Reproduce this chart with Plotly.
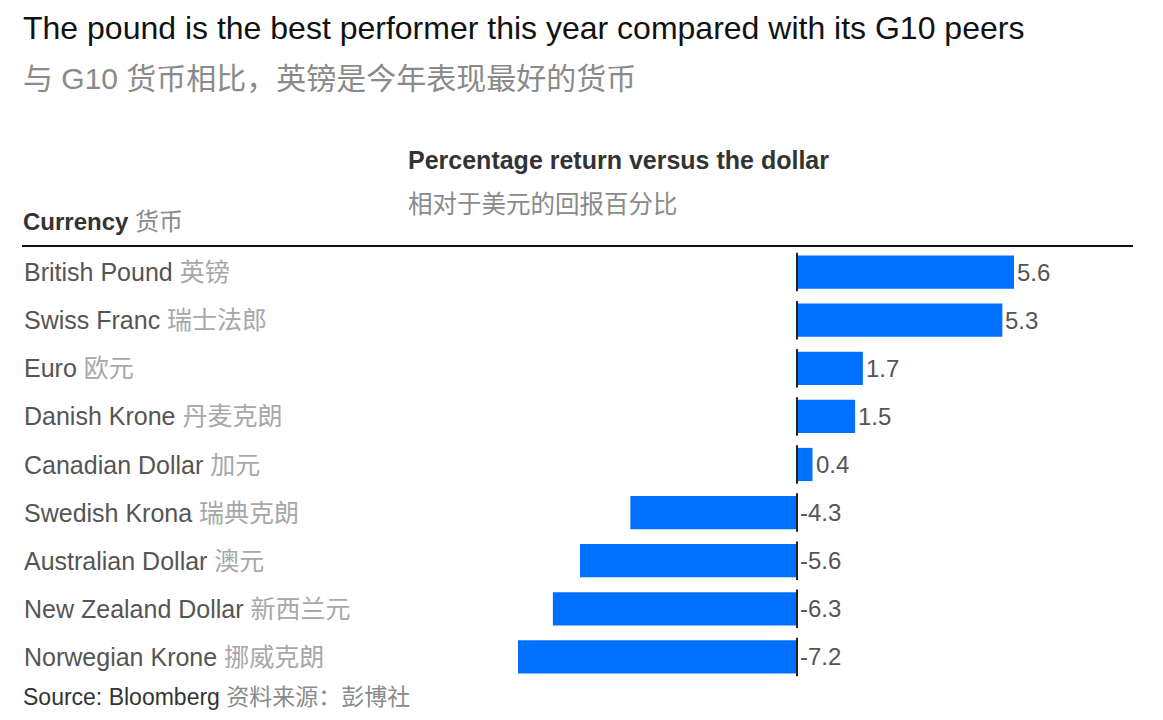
import plotly.graph_objects as go

# data
currencies_en = ["British Pound", "Swiss Franc", "Euro", "Danish Krone", "Canadian Dollar",
                 "Swedish Krona", "Australian Dollar", "New Zealand Dollar", "Norwegian Krone"]
currencies_zh = ["英镑", "瑞士法郎", "欧元", "丹麦克朗", "加元",
                 "瑞典克朗", "澳元", "新西兰元", "挪威克朗"]
returns = [5.6, 5.3, 1.7, 1.5, 0.4, -4.3, -5.6, -6.3, -7.2]

W, H = 1163, 720
OFF = 8  # page body margin
FONT = "Liberation Sans, Noto Sans CJK SC, sans-serif"
BLUE = "#0070ff"
GREY = "#8a8a8a"

# layout in page pixels (zero line at x=797, ~38.75 px per point)
px_per = 38.75
zero_px = 797 - OFF
x_lo = -zero_px / px_per
x_hi = (W - zero_px) / px_per
top_px = 248 - OFF
bot_px = 681 - OFF
plot_h = bot_px - top_px

cats = list(range(len(currencies_en)))

fig = go.Figure()
fig.add_trace(go.Bar(
    x=returns, y=cats, orientation="h",
    marker=dict(color=BLUE, line=dict(width=0)),
    width=0.69, hoverinfo="skip",
))

# zero line segments, one per bar
for i in cats:
    fig.add_shape(type="line", xref="x", yref="y", x0=0, x1=0, y0=i - 0.4, y1=i + 0.4,
                  line=dict(color="#222", width=2))

# value labels + category labels
for i, (en, zh, v) in enumerate(zip(currencies_en, currencies_zh, returns)):
    fig.add_annotation(x=max(v, 0), y=i, xref="x", yref="y", text=f"{v:.1f}",
                       showarrow=False, xanchor="left", xshift=1,
                       font=dict(size=24, color="#555", family=FONT))
    fig.add_annotation(x=(22 - OFF) / W, y=i, xref="paper", yref="y",
                       text=f"{en} <span style='color:#a8a8a8'>{zh}</span>",
                       showarrow=False, xanchor="left",
                       font=dict(size=25, color="#555", family=FONT))


def page_y(px_y):
    return (bot_px - (px_y - OFF)) / plot_h


# header rule
fig.add_shape(type="line", xref="paper", yref="paper", x0=(22 - OFF) / W, x1=(1133 - OFF) / W,
              y0=page_y(246), y1=page_y(246), line=dict(color="#111", width=2))

# title pinned to the top edge
fig.add_annotation(x=(22 - OFF) / W, y=page_y(OFF + 1), xref="paper", yref="paper",
                   xanchor="left", yanchor="top", showarrow=False, borderpad=0,
                   text="The pound is the best performer this year compared with its G10 peers",
                   font=dict(size=32, color="#111", family=FONT))

texts = [
    (22, 78, "与 G10 货币相比，英镑是今年表现最好的货币", 30, GREY),
    (407, 160, "<b>Percentage return versus the dollar</b>", 25, "#333"),
    (407, 205, "相对于美元的回报百分比", 24.5, GREY),
    (22, 221, f"<b>Currency</b> <span style='color:{GREY}'>货币</span>", 24, "#333"),
    (22, 697, f"Source: Bloomberg <span style='color:{GREY}'>资料来源：彭博社</span>", 23, "#333"),
]
for px_x, px_y, text, size, color in texts:
    fig.add_annotation(x=(px_x - OFF) / W, y=page_y(px_y), xref="paper", yref="paper",
                       xanchor="left", yanchor="middle", text=text, showarrow=False,
                       borderpad=0, font=dict(size=size, color=color, family=FONT))

fig.update_layout(
    width=W, height=H,
    margin=dict(l=0, r=0, t=top_px, b=H - bot_px),
    paper_bgcolor="white", plot_bgcolor="white",
    showlegend=False,
    bargap=0.31,
    xaxis=dict(range=[x_lo, x_hi], visible=False, fixedrange=True),
    yaxis=dict(range=[len(cats) - 0.5, -0.5], visible=False, fixedrange=True),
)

fig.write_html("out.html")
